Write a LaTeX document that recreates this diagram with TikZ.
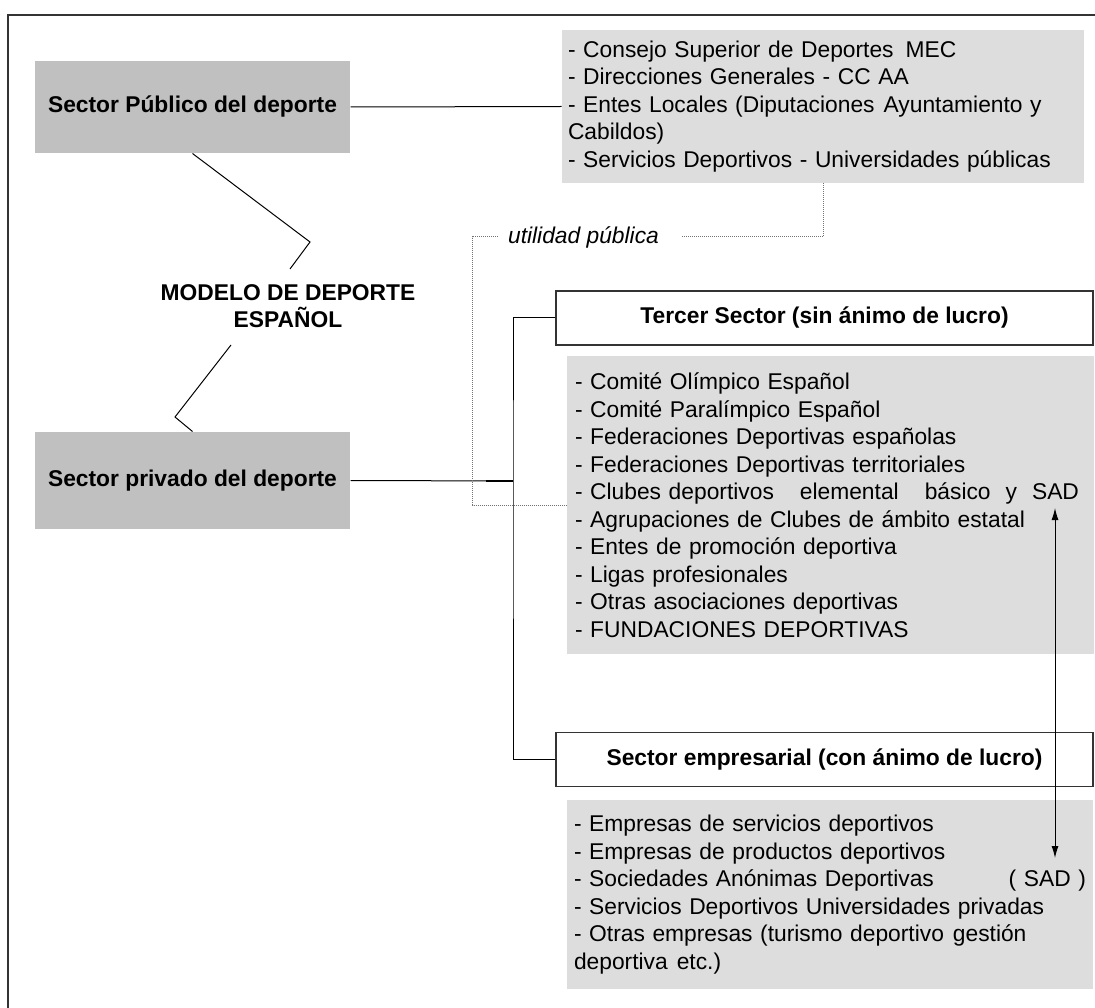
\documentclass[tikz,border=0pt]{standalone}
\usepackage{fontspec}
\setmainfont{Liberation Sans}
\usetikzlibrary{arrows,arrows.meta,positioning}
\definecolor{darkbox}{RGB}{192,192,192}
\definecolor{lightbox}{RGB}{221,221,221}
\newcommand{\fsz}{\fontsize{22.8}{27.5}\selectfont}
\tikzstyle{sector}=[fill=darkbox, align=center, font=\fsz\bfseries, minimum width=315pt]
\tikzstyle{list}=[fill=lightbox, align=left, inner xsep=7pt]
\tikzstyle{head}=[draw=black!80, fill=white, line width=1.3pt, minimum width=537pt, minimum height=54pt, font=\fsz\bfseries]
\tikzstyle{util}=[black!55, densely dotted]

\begin{document}
\begin{tikzpicture}[x=1pt,y=-1pt,line width=1pt,>={Latex[length=12pt,width=7pt]},font=\fsz]
    \useasboundingbox (0,0) rectangle (1095,1008);
    \draw [black!80,line width=1.3pt] (8,1008) -- (8,15) -- (1095,15);
    \node [sector, minimum height=92pt] (a) at (192.5,107) {Sector Público del deporte};
    \node [sector, minimum height=97pt] (b) at (192.5,480.5) {Sector privado del deporte};
    \node [font=\fontsize{22.8}{27}\selectfont\bfseries, align=center] (m) at (288,306) {MODELO DE DEPORTE\\ESPAÑOL};
    \node [list, text width=510pt, inner xsep=6pt, minimum height=153pt] (c) at (823,106.5) {- Consejo Superior de Deportes\hspace{12pt}MEC\\- Direcciones Generales - CC AA\\- Entes Locales (Diputaciones\hspace{9pt}Ayuntamiento y\\Cabildos)\\- Servicios Deportivos - Universidades públicas};
    \node [head] (d) at (824.5,318) {Tercer Sector (sin ánimo de lucro)};
    \node [list, text width=511pt, inner xsep=8pt, minimum height=298pt] (e) at (830.5,505) {- Comité Olímpico Español\\- Comité Paralímpico Español\\- Federaciones Deportivas españolas\\- Federaciones Deportivas territoriales\\- Clubes deportivos\hspace{26pt}elemental\hspace{26pt}básico\hspace{15pt}y\hspace{15pt}SAD\\- Agrupaciones de Clubes de ámbito estatal\\- Entes de promoción deportiva\\- Ligas profesionales\\- Otras asociaciones deportivas\\- FUNDACIONES DEPORTIVAS};
    \node [head] (f) at (824.5,759.5) {Sector empresarial (con ánimo de lucro)};
    \node [list, text width=512pt, minimum height=189pt] (g) at (830,894.5) {- Empresas de servicios deportivos\\- Empresas de productos deportivos\\- Sociedades Anónimas Deportivas\hfill( SAD )\\- Servicios Deportivos Universidades privadas\\- Otras empresas (turismo deportivo\hspace{9pt}gestión\\deportiva\hspace{9pt}etc.)};
    \node [font=\fsz\itshape, inner xsep=10pt] (u) at (583.5,237) {utilidad pública};
    \coordinate (z1) at (310,242);
    \coordinate (z2) at (290,269);
    \coordinate (z3) at (231,345);
    \coordinate (z4) at (175,417);
    \coordinate (k) at (513,481);
    \coordinate (s1) at (1055,508);
    \coordinate (s2) at (1055,858);
    \draw (a.east) -- (c.west);
    \draw (a.south) -- (z1) -- (z2);
    \draw (z3) -- (z4) -- (b.north);
    \draw (b.east) -- (k);
    \draw [line width=2pt] ([xshift=-27pt]k) -- (k);
    \draw (d.west) -| (k) |- (f.west);
    \draw [util] (c.south) |- ([xshift=12pt]u.east);
    \draw [util] (u.west) -- ++(-25,0) |- (e.west);
    \draw [<->] (s1) -- (s2);
\end{tikzpicture}
\end{document}
